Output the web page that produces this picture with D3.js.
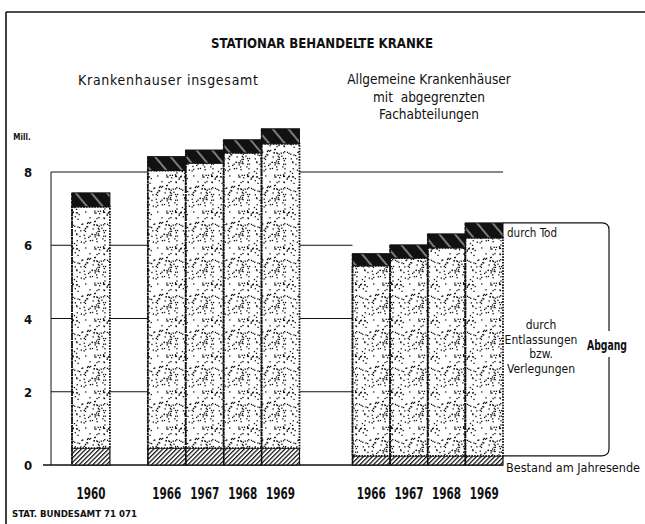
<!DOCTYPE html>
<html><head><meta charset="utf-8">
<script src="https://cdn.jsdelivr.net/npm/d3@7"></script>
<style>
html,body{margin:0;padding:0;background:#fff;}
svg{display:block;}
text{font-family:"Liberation Sans Narrow","DejaVu Sans Condensed","Roboto Condensed","DejaVu Sans",sans-serif;fill:#111;}
</style></head>
<body>
<svg id="c" width="645" height="524"></svg>
<script>
// ---- data ----
const title = "STATIONAR BEHANDELTE KRANKE";
const leftTitle = "Krankenhauser insgesamt";
const rightTitle = ["Allgemeine Krankenhäuser", "mit\u00a0 abgegrenzten", "Fachabteilungen"];
const categoriesLeft = ["1960", "1966", "1967", "1968", "1969"];
const categoriesRight = ["1966", "1967", "1968", "1969"];
// Mill.: Bestand am Jahresende / durch Entlassungen bzw. Verlegungen / durch Tod
const stockLeft = [0.46, 0.46, 0.46, 0.46, 0.46];
const dischargeLeft = [6.59, 7.58, 7.78, 8.06, 8.31];
const deathLeft = [0.38, 0.38, 0.36, 0.36, 0.41];
const stockRight = [0.25, 0.25, 0.25, 0.25];
const dischargeRight = [5.19, 5.40, 5.68, 5.95];
const deathRight = [0.33, 0.36, 0.38, 0.41];
const yTicks = [0, 2, 4, 6, 8];
const yUnit = "Mill.";
const labelDeath = "durch Tod";
const labelDischarge = ["durch", "Entlassungen", "bzw.", "Verlegungen"];
const labelOutflow = "Abgang";
const labelStock = "Bestand am Jahresende";
const source = "STAT. BUNDESAMT 71 071";

// ---- drawing ----
const svg = d3.select("#c");
const defs = svg.append("defs");

// stipple pattern (texture only)
let seed = 7;
function rnd() { seed = (seed * 16807) % 2147483647; return (seed - 1) / 2147483646; }
const stip = defs.append("pattern").attr("id", "stip").attr("patternUnits", "userSpaceOnUse")
  .attr("width", 36).attr("height", 36);
stip.append("rect").attr("width", 36).attr("height", 36).attr("fill", "#fff");
for (let i = 0; i < 95; i++) {
  stip.append("rect").attr("x", (rnd() * 35).toFixed(1)).attr("y", (rnd() * 35).toFixed(1))
    .attr("width", 1.3).attr("height", 1.3).attr("fill", "#111");
}
// hatch pattern for stock
const hatch = defs.append("pattern").attr("id", "hatch").attr("patternUnits", "userSpaceOnUse")
  .attr("width", 3.2).attr("height", 3.2).attr("patternTransform", "rotate(45)");
hatch.append("rect").attr("width", 3.2).attr("height", 3.2).attr("fill", "#fff");
hatch.append("line").attr("x1", 0.6).attr("y1", 0).attr("x2", 0.6).attr("y2", 3.2)
  .attr("stroke", "#111").attr("stroke-width", 1.3);
// black band with white slashes for deaths
const dark = defs.append("pattern").attr("id", "dark").attr("patternUnits", "userSpaceOnUse")
  .attr("width", 12).attr("height", 12).attr("patternTransform", "rotate(-40)");
dark.append("rect").attr("width", 12).attr("height", 12).attr("fill", "#111");
dark.append("line").attr("x1", 6).attr("y1", 0).attr("x2", 6).attr("y2", 12)
  .attr("stroke", "#fff").attr("stroke-width", 0.9);

const y = d3.scaleLinear().domain([0, 8]).range([465, 172]);
const xLeft = d3.scaleBand().domain(["1960", "_gap", "1966", "1967", "1968", "1969"])
  .range([72, 299.5]).padding(0);
const xRight = d3.scaleBand().domain(categoriesRight).range([352.5, 503]).padding(0);

// frame (top and left only)
svg.append("line").attr("x1", 6).attr("x2", 645).attr("y1", 12).attr("y2", 12)
  .attr("stroke", "#111").attr("stroke-width", 1.6);
svg.append("line").attr("x1", 6).attr("x2", 6).attr("y1", 12).attr("y2", 524)
  .attr("stroke", "#111").attr("stroke-width", 1.6);

// titles
svg.append("text").attr("x", 322).attr("y", 48).attr("text-anchor", "middle")
  .attr("font-size", 14).attr("font-weight", "bold").attr("textLength", 222)
  .attr("lengthAdjust", "spacingAndGlyphs").text(title);
svg.append("text").attr("x", 78).attr("y", 85).attr("font-size", 14)
  .attr("textLength", 180).attr("lengthAdjust", "spacing").text(leftTitle);
rightTitle.forEach((t, i) => {
  svg.append("text").attr("x", 429).attr("y", 84 + i * 17.5).attr("text-anchor", "middle")
    .attr("font-size", 13.5).text(t);
});

// grid / axis lines
const gridEnd = v => v === 8 ? xRight.range()[1] : xRight.range()[0];
svg.append("g").selectAll("line").data(yTicks.filter(v => v > 0)).join("line")
  .attr("x1", 51).attr("x2", d => gridEnd(d)).attr("y1", d => y(d)).attr("y2", d => y(d))
  .attr("stroke", "#111").attr("stroke-width", 1);
svg.append("line").attr("x1", 51).attr("x2", 51).attr("y1", y(8)).attr("y2", y(0))
  .attr("stroke", "#111").attr("stroke-width", 1);
svg.append("line").attr("x1", 43).attr("x2", xRight.range()[1]).attr("y1", y(0)).attr("y2", y(0))
  .attr("stroke", "#111").attr("stroke-width", 1.4);

// y tick labels
svg.append("g").selectAll("text").data(yTicks).join("text")
  .attr("x", 28).attr("y", d => y(d) + 5).attr("text-anchor", "middle")
  .attr("font-size", 13).attr("font-weight", "bold").text(d => d);
svg.append("text").attr("x", 22).attr("y", 140).attr("text-anchor", "middle")
  .attr("font-size", 8).attr("font-weight", "bold").text(yUnit);

// bars
function drawGroup(cats, x, stock, disch, death) {
  const rows = cats.map((c, i) => ({ c, s: stock[i], d: disch[i], t: death[i] }));
  const g = svg.append("g");
  const bw = x.bandwidth();
  g.selectAll(".s").data(rows).join("rect")
    .attr("x", r => x(r.c)).attr("width", bw)
    .attr("y", r => y(r.s)).attr("height", r => y(0) - y(r.s))
    .attr("fill", "url(#hatch)").attr("stroke", "#111").attr("stroke-width", 1.2);
  g.selectAll(".d").data(rows).join("rect")
    .attr("x", r => x(r.c)).attr("width", bw)
    .attr("y", r => y(r.s + r.d)).attr("height", r => y(r.s) - y(r.s + r.d))
    .attr("fill", "url(#stip)").attr("stroke", "#111").attr("stroke-width", 1.8)
    .attr("stroke-dasharray", "1.6,1.2");
  g.selectAll(".t").data(rows).join("rect")
    .attr("x", r => x(r.c)).attr("width", bw)
    .attr("y", r => y(r.s + r.d + r.t)).attr("height", r => y(r.s + r.d) - y(r.s + r.d + r.t))
    .attr("fill", "url(#dark)").attr("stroke", "#111").attr("stroke-width", 1);
  g.selectAll(".sep").data(rows).join("line")
    .attr("x1", r => x(r.c)).attr("x2", r => x(r.c))
    .attr("y1", r => y(r.s + r.d + r.t)).attr("y2", y(0))
    .attr("stroke", "#111").attr("stroke-width", 1.6).attr("stroke-dasharray", "3,1");
  g.selectAll(".yr").data(rows).join("text")
    .attr("x", r => x(r.c) + bw / 2).attr("y", 499).attr("text-anchor", "middle")
    .attr("font-size", 16).attr("font-weight", "bold")
    .attr("textLength", 29).attr("lengthAdjust", "spacingAndGlyphs").text(r => r.c);
}
drawGroup(categoriesLeft, xLeft, stockLeft, dischargeLeft, deathLeft);
drawGroup(categoriesRight, xRight, stockRight, dischargeRight, deathRight);

// bracket on the right
const last = categoriesRight.length - 1;
const bx0 = xRight.range()[1];
const topY = y(stockRight[last] + dischargeRight[last] + deathRight[last]);
const botY = y(stockRight[last]);
const bx1 = 609, rr = 7, gapTop = 331, gapBot = 357;
svg.append("path").attr("fill", "none").attr("stroke", "#111").attr("stroke-width", 1.2)
  .attr("d", `M${bx0},${topY} H${bx1 - rr} Q${bx1},${topY} ${bx1},${topY + rr} V${gapTop}
              M${bx1},${gapBot} V${botY - rr} Q${bx1},${botY} ${bx1 - rr},${botY} H${bx0}`);

svg.append("text").attr("x", 507).attr("y", topY + 14).attr("font-size", 12)
  .attr("textLength", 50).attr("lengthAdjust", "spacingAndGlyphs").text(labelDeath);
labelDischarge.forEach((t, i) => {
  svg.append("text").attr("x", 541).attr("y", 329 + i * 14.5).attr("text-anchor", "middle")
    .attr("font-size", 12).text(t);
});
svg.append("text").attr("x", 607).attr("y", 350).attr("text-anchor", "middle")
  .attr("font-size", 14).attr("font-weight", "bold")
  .attr("textLength", 40).attr("lengthAdjust", "spacingAndGlyphs").text(labelOutflow);
svg.append("text").attr("x", 506).attr("y", 472).attr("font-size", 13)
  .attr("textLength", 134).attr("lengthAdjust", "spacingAndGlyphs").text(labelStock);

svg.append("text").attr("x", 12).attr("y", 517).attr("font-size", 8.5).attr("font-weight", "bold")
  .attr("textLength", 125).attr("lengthAdjust", "spacingAndGlyphs").text(source);
</script>
</body></html>
